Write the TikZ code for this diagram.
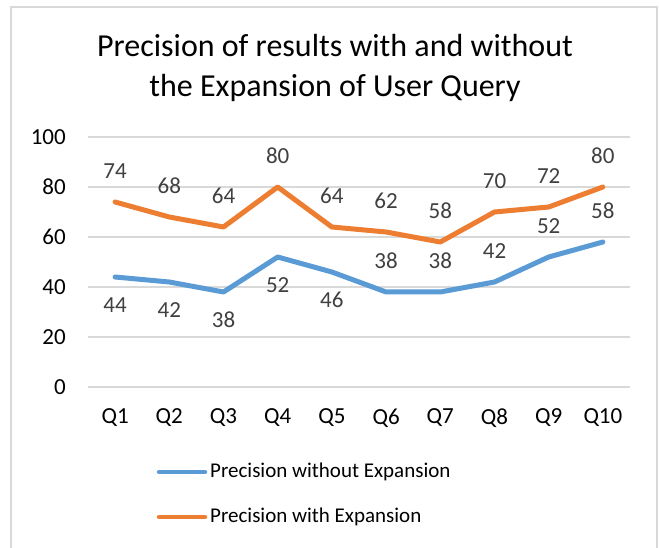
\documentclass[tikz,border=0pt]{standalone}
\usepackage{fontspec}
\setmainfont{Carlito}
\definecolor{serA}{HTML}{5B9BD5}
\definecolor{serB}{HTML}{ED7D31}
\definecolor{gridc}{HTML}{D9D9D9}
\definecolor{framec}{HTML}{D9D9D9}
\definecolor{lblc}{HTML}{404040}
\begin{document}
\begin{tikzpicture}[x=1pt,y=-1pt,
  grid line/.style={draw=gridc,line width=1.3pt},
  series/.style={line width=5pt,line join=round,line cap=round},
  ticklbl/.style={font=\fontsize{23}{23}\selectfont,text=black,inner sep=0pt},
  datalbl/.style={font=\fontsize{23}{23}\selectfont,text=lblc,inner sep=0pt},
  legtext/.style={font=\fontsize{21}{21}\selectfont,text=black,anchor=west,inner sep=0pt},
  titletext/.style={font=\fontsize{32}{40}\selectfont,text=black,align=center,inner sep=0pt}]
\useasboundingbox (0,0) rectangle (659,548);
% chart frame (bottom edge lies outside the page)
\draw[draw=framec,line width=2pt] (11,560) -- (11,7) -- (657,7) -- (657,560);
% title
\node[titletext] (title) at (335,68) {Precision of results with and without\\the Expansion of User Query};
% horizontal grid and value axis labels
\foreach \v in {0,20,...,100}{
  \draw[grid line] (88,387-2.5*\v) -- (630,387-2.5*\v);
  \node[ticklbl,anchor=east] (y\v) at (66,387-2.5*\v) {\v};
}
% category labels
\foreach \i in {1,...,10}{
  \node[ticklbl] (q\i) at ({88+54.2*(\i-0.5)},418) {Q\i};
}
% data points
\foreach \i/\a/\b in {1/44/74,2/42/68,3/38/64,4/52/80,5/46/64,6/38/62,7/38/58,8/42/70,9/52/72,10/58/80}{
  \coordinate (a\i) at ({88+54.2*(\i-0.5)},387-2.5*\a);
  \coordinate (b\i) at ({88+54.2*(\i-0.5)},387-2.5*\b);
}
\draw[series,serA] (a1) -- (a2) -- (a3) -- (a4) -- (a5) -- (a6) -- (a7) -- (a8) -- (a9) -- (a10);
\draw[series,serB] (b1) -- (b2) -- (b3) -- (b4) -- (b5) -- (b6) -- (b7) -- (b8) -- (b9) -- (b10);
% data labels
\foreach \i/\b in {1/74,2/68,3/64,4/80,5/64,6/62,7/58,8/70,9/72,10/80}{
  \node[datalbl] (lb\i) at ([yshift=31]b\i) {\b};
}
\foreach \i/\a in {1/44,2/42,3/38,4/52,5/46}{
  \node[datalbl] (la\i) at ([yshift=-28]a\i) {\a};
}
\foreach \i/\a in {6/38,7/38,8/42,9/52,10/58}{
  \node[datalbl] (la\i) at ([yshift=31]a\i) {\a};
}
% legend
\coordinate (la0) at (159,472);
\coordinate (la1) at (205,472);
\coordinate (lb0) at (159,517);
\coordinate (lb1) at (205,517);
\draw[serA,line width=4.5pt,line cap=round] (la0) -- (la1);
\draw[serB,line width=4.5pt,line cap=round] (lb0) -- (lb1);
\node[legtext] (leA) at (210,472) {Precision without Expansion};
\node[legtext] (leB) at (210,517) {Precision with Expansion};
\end{tikzpicture}
\end{document}
